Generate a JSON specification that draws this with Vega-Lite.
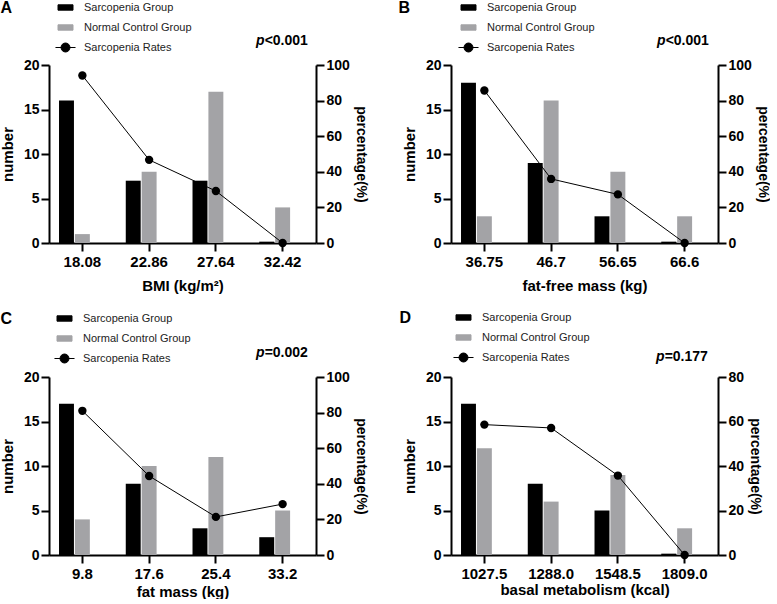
{
  "$schema": "https://vega.github.io/schema/vega-lite/v6.json",
  "background": "white",
  "padding": {"left": 0, "top": 0, "right": 0, "bottom": 0},
  "datasets": {
    "bars": [
      {"panel": "A", "cat": "18.08", "group": "Sarcopenia Group", "n": 16},
      {"panel": "A", "cat": "18.08", "group": "Normal Control Group", "n": 1},
      {"panel": "A", "cat": "22.86", "group": "Sarcopenia Group", "n": 7},
      {"panel": "A", "cat": "22.86", "group": "Normal Control Group", "n": 8},
      {"panel": "A", "cat": "27.64", "group": "Sarcopenia Group", "n": 7},
      {"panel": "A", "cat": "27.64", "group": "Normal Control Group", "n": 17},
      {"panel": "A", "cat": "32.42", "group": "Sarcopenia Group", "n": 0.15},
      {"panel": "A", "cat": "32.42", "group": "Normal Control Group", "n": 4},
      {"panel": "B", "cat": "36.75", "group": "Sarcopenia Group", "n": 18},
      {"panel": "B", "cat": "36.75", "group": "Normal Control Group", "n": 3},
      {"panel": "B", "cat": "46.7", "group": "Sarcopenia Group", "n": 9},
      {"panel": "B", "cat": "46.7", "group": "Normal Control Group", "n": 16},
      {"panel": "B", "cat": "56.65", "group": "Sarcopenia Group", "n": 3},
      {"panel": "B", "cat": "56.65", "group": "Normal Control Group", "n": 8},
      {"panel": "B", "cat": "66.6", "group": "Sarcopenia Group", "n": 0.15},
      {"panel": "B", "cat": "66.6", "group": "Normal Control Group", "n": 3},
      {"panel": "C", "cat": "9.8", "group": "Sarcopenia Group", "n": 17},
      {"panel": "C", "cat": "9.8", "group": "Normal Control Group", "n": 4},
      {"panel": "C", "cat": "17.6", "group": "Sarcopenia Group", "n": 8},
      {"panel": "C", "cat": "17.6", "group": "Normal Control Group", "n": 10},
      {"panel": "C", "cat": "25.4", "group": "Sarcopenia Group", "n": 3},
      {"panel": "C", "cat": "25.4", "group": "Normal Control Group", "n": 11},
      {"panel": "C", "cat": "33.2", "group": "Sarcopenia Group", "n": 2},
      {"panel": "C", "cat": "33.2", "group": "Normal Control Group", "n": 5},
      {"panel": "D", "cat": "1027.5", "group": "Sarcopenia Group", "n": 17},
      {"panel": "D", "cat": "1027.5", "group": "Normal Control Group", "n": 12},
      {"panel": "D", "cat": "1288.0", "group": "Sarcopenia Group", "n": 8},
      {"panel": "D", "cat": "1288.0", "group": "Normal Control Group", "n": 6},
      {"panel": "D", "cat": "1548.5", "group": "Sarcopenia Group", "n": 5},
      {"panel": "D", "cat": "1548.5", "group": "Normal Control Group", "n": 9},
      {"panel": "D", "cat": "1809.0", "group": "Sarcopenia Group", "n": 0.15},
      {"panel": "D", "cat": "1809.0", "group": "Normal Control Group", "n": 3}
    ],
    "rates": [
      {"panel": "A", "cat": "18.08", "rate": 94.1},
      {"panel": "A", "cat": "22.86", "rate": 46.7},
      {"panel": "A", "cat": "27.64", "rate": 29.2},
      {"panel": "A", "cat": "32.42", "rate": 0},
      {"panel": "B", "cat": "36.75", "rate": 85.7},
      {"panel": "B", "cat": "46.7", "rate": 36},
      {"panel": "B", "cat": "56.65", "rate": 27.3},
      {"panel": "B", "cat": "66.6", "rate": 0},
      {"panel": "C", "cat": "9.8", "rate": 81},
      {"panel": "C", "cat": "17.6", "rate": 44.4},
      {"panel": "C", "cat": "25.4", "rate": 21.4},
      {"panel": "C", "cat": "33.2", "rate": 28.6},
      {"panel": "D", "cat": "1027.5", "rate": 58.6},
      {"panel": "D", "cat": "1288.0", "rate": 57.1},
      {"panel": "D", "cat": "1548.5", "rate": 35.7},
      {"panel": "D", "cat": "1809.0", "rate": 0}
    ]
  },
  "config": {
    "view": {"stroke": null},
    "font": "Liberation Sans",
    "axis": {
      "grid": false,
      "domainColor": "black",
      "domainWidth": 2,
      "tickColor": "black",
      "tickWidth": 2,
      "tickSize": 8,
      "labelFont": "Liberation Sans",
      "labelFontSize": 14,
      "labelFontWeight": "bold",
      "labelColor": "black",
      "labelPadding": 2,
      "titleFont": "Liberation Sans",
      "titleFontSize": 15,
      "titleFontWeight": "bold",
      "titleColor": "black"
    },
    "axisX": {"labelAngle": 0, "labelFontSize": 15, "labelPadding": 3, "titlePadding": 9},
    "axisLeft": {"titlePadding": 8},
    "axisRight": {"titlePadding": 4, "titleFontSize": 14},
    "legend": {
      "orient": "none",
      "title": null,
      "padding": 0,
      "rowPadding": 8,
      "symbolSize": 144,
      "labelOffset": 12,
      "labelFont": "Liberation Sans",
      "labelFontSize": 11,
      "labelColor": "#222"
    },
    "title": {
      "anchor": "start",
      "frame": "bounds",
      "font": "Liberation Sans",
      "fontSize": 16,
      "fontWeight": "bold",
      "color": "black",
      "offset": -15
    }
  },
  "columns": 2,
  "spacing": {"row": 17, "column": 30},
  "resolve": {"scale": {"color": "independent"}, "legend": {"color": "independent"}},
  "concat": [
    {
      "title": {"text": "A"},
      "width": 267,
      "height": 178,
      "encoding": {
        "x": {"field": "cat", "type": "nominal", "scale": {"domain": ["18.08", "22.86", "27.64", "32.42"], "paddingInner": 0.3, "paddingOuter": 0.15}, "axis": {"title": "BMI (kg/m²)"}}
      },
      "layer": [
        {
          "layer": [
            {
              "data": {"name": "bars"},
              "transform": [{"filter": "datum.panel === 'A'"}],
              "mark": {"type": "bar"},
              "encoding": {
                "xOffset": {"field": "group", "type": "nominal", "scale": {"domain": ["Sarcopenia Group", "Normal Control Group", "gap"], "paddingInner": 0.06}},
                "y": {"field": "n", "type": "quantitative", "scale": {"domain": [0, 20]}, "axis": {"title": "number", "values": [0, 5, 10, 15, 20]}},
                "color": {
                  "field": "group", "type": "nominal",
                  "scale": {"domain": ["Sarcopenia Group", "Normal Control Group", "Sarcopenia Rates"], "range": ["black", "#a3a3a6", "black"]},
                  "legend": {
                    "legendX": 10, "legendY": -64,
                    "encode": {"symbols": {"update": {
                      "shape": {"signal": "datum.value === 'Sarcopenia Rates' ? 'M-1.67,0H1.67M-0.75,0A0.75,0.75 0 1,1 0.75,0A0.75,0.75 0 1,1 -0.75,0Z' : 'M-1.25,-0.45H1.25V0.45H-1.25Z'"},
                      "fill": {"signal": "datum.value === 'Normal Control Group' ? '#a3a3a6' : 'black'"},
                      "stroke": {"signal": "datum.value === 'Normal Control Group' ? '#a3a3a6' : 'black'"},
                      "strokeWidth": {"value": 1},
                      "opacity": {"value": 1},
                      "fillOpacity": {"value": 1}
                    }}}
                  }
                }
              }
            },
            {
              "data": {"values": [{"p": "p", "v": "<0.001"}]},
              "mark": {"type": "text", "align": "right", "baseline": "middle", "dx": -18, "fontSize": 14, "fontWeight": "bold", "fontStyle": "italic", "color": "black"},
              "encoding": {"x": {"datum": "32.42"}, "y": {"datum": 22.7, "type": "quantitative"}, "text": {"field": "p"}}
            },
            {
              "data": {"values": [{"p": "p", "v": "<0.001"}]},
              "mark": {"type": "text", "align": "left", "baseline": "middle", "dx": -18, "fontSize": 14, "fontWeight": "bold", "color": "black"},
              "encoding": {"x": {"datum": "32.42"}, "y": {"datum": 22.7, "type": "quantitative"}, "text": {"field": "v"}}
            }
          ]
        },
        {
          "data": {"name": "rates"},
          "transform": [{"filter": "datum.panel === 'A'"}],
          "encoding": {
            "y": {"field": "rate", "type": "quantitative", "scale": {"domain": [0, 100]}, "axis": {"orient": "right", "title": "percentage(%)", "titleAngle": 90, "values": [0, 20, 40, 60, 80, 100]}}
          },
          "layer": [
            {"mark": {"type": "line", "color": "black", "strokeWidth": 1}},
            {"mark": {"type": "point", "filled": true, "color": "black", "size": 70, "opacity": 1}}
          ]
        }
      ],
      "resolve": {"scale": {"y": "independent"}}
    },
    {
      "title": {"text": "B", "dx": -4},
      "width": 267,
      "height": 178,
      "encoding": {
        "x": {"field": "cat", "type": "nominal", "scale": {"domain": ["36.75", "46.7", "56.65", "66.6"], "paddingInner": 0.3, "paddingOuter": 0.15}, "axis": {"title": "fat-free mass (kg)"}}
      },
      "layer": [
        {
          "layer": [
            {
              "data": {"name": "bars"},
              "transform": [{"filter": "datum.panel === 'B'"}],
              "mark": {"type": "bar"},
              "encoding": {
                "xOffset": {"field": "group", "type": "nominal", "scale": {"domain": ["Sarcopenia Group", "Normal Control Group", "gap"], "paddingInner": 0.06}},
                "y": {"field": "n", "type": "quantitative", "scale": {"domain": [0, 20]}, "axis": {"title": "number", "values": [0, 5, 10, 15, 20]}},
                "color": {
                  "field": "group", "type": "nominal",
                  "scale": {"domain": ["Sarcopenia Group", "Normal Control Group", "Sarcopenia Rates"], "range": ["black", "#a3a3a6", "black"]},
                  "legend": {
                    "legendX": 11, "legendY": -64,
                    "encode": {"symbols": {"update": {
                      "shape": {"signal": "datum.value === 'Sarcopenia Rates' ? 'M-1.67,0H1.67M-0.75,0A0.75,0.75 0 1,1 0.75,0A0.75,0.75 0 1,1 -0.75,0Z' : 'M-1.25,-0.45H1.25V0.45H-1.25Z'"},
                      "fill": {"signal": "datum.value === 'Normal Control Group' ? '#a3a3a6' : 'black'"},
                      "stroke": {"signal": "datum.value === 'Normal Control Group' ? '#a3a3a6' : 'black'"},
                      "strokeWidth": {"value": 1},
                      "opacity": {"value": 1},
                      "fillOpacity": {"value": 1}
                    }}}
                  }
                }
              }
            },
            {
              "data": {"values": [{"p": "p", "v": "<0.001"}]},
              "mark": {"type": "text", "align": "right", "baseline": "middle", "dx": -19, "fontSize": 14, "fontWeight": "bold", "fontStyle": "italic", "color": "black"},
              "encoding": {"x": {"datum": "66.6"}, "y": {"datum": 22.7, "type": "quantitative"}, "text": {"field": "p"}}
            },
            {
              "data": {"values": [{"p": "p", "v": "<0.001"}]},
              "mark": {"type": "text", "align": "left", "baseline": "middle", "dx": -19, "fontSize": 14, "fontWeight": "bold", "color": "black"},
              "encoding": {"x": {"datum": "66.6"}, "y": {"datum": 22.7, "type": "quantitative"}, "text": {"field": "v"}}
            }
          ]
        },
        {
          "data": {"name": "rates"},
          "transform": [{"filter": "datum.panel === 'B'"}],
          "encoding": {
            "y": {"field": "rate", "type": "quantitative", "scale": {"domain": [0, 100]}, "axis": {"orient": "right", "title": "percentage(%)", "titleAngle": 90, "values": [0, 20, 40, 60, 80, 100]}}
          },
          "layer": [
            {"mark": {"type": "line", "color": "black", "strokeWidth": 1}},
            {"mark": {"type": "point", "filled": true, "color": "black", "size": 70, "opacity": 1}}
          ]
        }
      ],
      "resolve": {"scale": {"y": "independent"}}
    },
    {
      "title": {"text": "C"},
      "width": 267,
      "height": 178,
      "encoding": {
        "x": {"field": "cat", "type": "nominal", "scale": {"domain": ["9.8", "17.6", "25.4", "33.2"], "paddingInner": 0.3, "paddingOuter": 0.15}, "axis": {"title": "fat mass (kg)", "titlePadding": 3}}
      },
      "layer": [
        {
          "layer": [
            {
              "data": {"name": "bars"},
              "transform": [{"filter": "datum.panel === 'C'"}],
              "mark": {"type": "bar"},
              "encoding": {
                "xOffset": {"field": "group", "type": "nominal", "scale": {"domain": ["Sarcopenia Group", "Normal Control Group", "gap"], "paddingInner": 0.06}},
                "y": {"field": "n", "type": "quantitative", "scale": {"domain": [0, 20]}, "axis": {"title": "number", "values": [0, 5, 10, 15, 20]}},
                "color": {
                  "field": "group", "type": "nominal",
                  "scale": {"domain": ["Sarcopenia Group", "Normal Control Group", "Sarcopenia Rates"], "range": ["black", "#a3a3a6", "black"]},
                  "legend": {
                    "legendX": 9, "legendY": -65,
                    "encode": {"symbols": {"update": {
                      "shape": {"signal": "datum.value === 'Sarcopenia Rates' ? 'M-1.67,0H1.67M-0.75,0A0.75,0.75 0 1,1 0.75,0A0.75,0.75 0 1,1 -0.75,0Z' : 'M-1.25,-0.45H1.25V0.45H-1.25Z'"},
                      "fill": {"signal": "datum.value === 'Normal Control Group' ? '#a3a3a6' : 'black'"},
                      "stroke": {"signal": "datum.value === 'Normal Control Group' ? '#a3a3a6' : 'black'"},
                      "strokeWidth": {"value": 1},
                      "opacity": {"value": 1},
                      "fillOpacity": {"value": 1}
                    }}}
                  }
                }
              }
            },
            {
              "data": {"values": [{"p": "p", "v": "=0.002"}]},
              "mark": {"type": "text", "align": "right", "baseline": "middle", "dx": -18, "fontSize": 14, "fontWeight": "bold", "fontStyle": "italic", "color": "black"},
              "encoding": {"x": {"datum": "33.2"}, "y": {"datum": 22.7, "type": "quantitative"}, "text": {"field": "p"}}
            },
            {
              "data": {"values": [{"p": "p", "v": "=0.002"}]},
              "mark": {"type": "text", "align": "left", "baseline": "middle", "dx": -18, "fontSize": 14, "fontWeight": "bold", "color": "black"},
              "encoding": {"x": {"datum": "33.2"}, "y": {"datum": 22.7, "type": "quantitative"}, "text": {"field": "v"}}
            }
          ]
        },
        {
          "data": {"name": "rates"},
          "transform": [{"filter": "datum.panel === 'C'"}],
          "encoding": {
            "y": {"field": "rate", "type": "quantitative", "scale": {"domain": [0, 100]}, "axis": {"orient": "right", "title": "percentage(%)", "titleAngle": 90, "values": [0, 20, 40, 60, 80, 100]}}
          },
          "layer": [
            {"mark": {"type": "line", "color": "black", "strokeWidth": 1}},
            {"mark": {"type": "point", "filled": true, "color": "black", "size": 70, "opacity": 1}}
          ]
        }
      ],
      "resolve": {"scale": {"y": "independent"}}
    },
    {
      "title": {"text": "D", "dx": -3},
      "width": 267,
      "height": 178,
      "encoding": {
        "x": {"field": "cat", "type": "nominal", "scale": {"domain": ["1027.5", "1288.0", "1548.5", "1809.0"], "paddingInner": 0.3, "paddingOuter": 0.15}, "axis": {"title": "basal metabolism (kcal)", "titlePadding": 1}}
      },
      "layer": [
        {
          "layer": [
            {
              "data": {"name": "bars"},
              "transform": [{"filter": "datum.panel === 'D'"}],
              "mark": {"type": "bar"},
              "encoding": {
                "xOffset": {"field": "group", "type": "nominal", "scale": {"domain": ["Sarcopenia Group", "Normal Control Group", "gap"], "paddingInner": 0.06}},
                "y": {"field": "n", "type": "quantitative", "scale": {"domain": [0, 20]}, "axis": {"title": "number", "values": [0, 5, 10, 15, 20]}},
                "color": {
                  "field": "group", "type": "nominal",
                  "scale": {"domain": ["Sarcopenia Group", "Normal Control Group", "Sarcopenia Rates"], "range": ["black", "#a3a3a6", "black"]},
                  "legend": {
                    "legendX": 6, "legendY": -66,
                    "encode": {"symbols": {"update": {
                      "shape": {"signal": "datum.value === 'Sarcopenia Rates' ? 'M-1.67,0H1.67M-0.75,0A0.75,0.75 0 1,1 0.75,0A0.75,0.75 0 1,1 -0.75,0Z' : 'M-1.25,-0.45H1.25V0.45H-1.25Z'"},
                      "fill": {"signal": "datum.value === 'Normal Control Group' ? '#a3a3a6' : 'black'"},
                      "stroke": {"signal": "datum.value === 'Normal Control Group' ? '#a3a3a6' : 'black'"},
                      "strokeWidth": {"value": 1},
                      "opacity": {"value": 1},
                      "fillOpacity": {"value": 1}
                    }}}
                  }
                }
              }
            },
            {
              "data": {"values": [{"p": "p", "v": "=0.177"}]},
              "mark": {"type": "text", "align": "right", "baseline": "middle", "dx": -20, "fontSize": 14, "fontWeight": "bold", "fontStyle": "italic", "color": "black"},
              "encoding": {"x": {"datum": "1809.0"}, "y": {"datum": 22.3, "type": "quantitative"}, "text": {"field": "p"}}
            },
            {
              "data": {"values": [{"p": "p", "v": "=0.177"}]},
              "mark": {"type": "text", "align": "left", "baseline": "middle", "dx": -20, "fontSize": 14, "fontWeight": "bold", "color": "black"},
              "encoding": {"x": {"datum": "1809.0"}, "y": {"datum": 22.3, "type": "quantitative"}, "text": {"field": "v"}}
            }
          ]
        },
        {
          "data": {"name": "rates"},
          "transform": [{"filter": "datum.panel === 'D'"}],
          "encoding": {
            "y": {"field": "rate", "type": "quantitative", "scale": {"domain": [0, 80]}, "axis": {"orient": "right", "title": "percentage(%)", "titleAngle": 90, "values": [0, 20, 40, 60, 80]}}
          },
          "layer": [
            {"mark": {"type": "line", "color": "black", "strokeWidth": 1}},
            {"mark": {"type": "point", "filled": true, "color": "black", "size": 70, "opacity": 1}}
          ]
        }
      ],
      "resolve": {"scale": {"y": "independent"}}
    }
  ]
}
